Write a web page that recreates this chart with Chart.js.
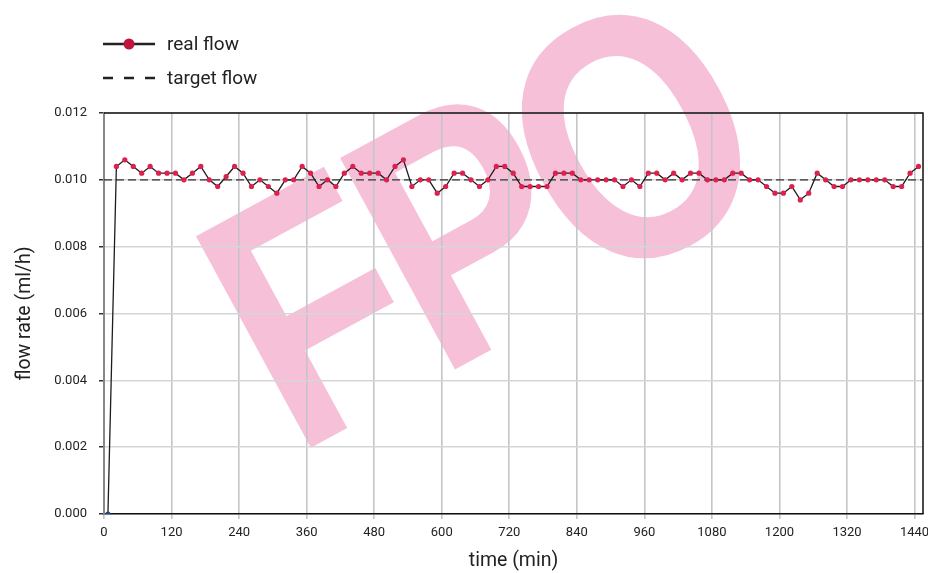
<!DOCTYPE html>
<html>

<head>
    <title>Flow rate</title>
    <script src="https://cdn.jsdelivr.net/npm/chart.js"></script>
    <style>
        html, body { margin: 0; padding: 0; background: #fff; }
        #wrap { width: 928px; height: 573px; }
    </style>
</head>

<body>
    <div id="wrap">
        <canvas id="flowChart" width="928" height="573"></canvas>
    </div>

    <script>
        const sampleTimes = [7, 22, 37, 52, 67, 82, 97, 112, 127, 142, 157, 172, 187, 202, 217, 232, 247, 262, 277, 292,
            307, 322, 337, 352, 367, 382, 397, 412, 427, 442, 457, 472, 487, 502, 517, 532, 547, 562, 577, 592,
            607, 622, 637, 652, 667, 682, 697, 712, 727, 742, 757, 772, 787, 802, 817, 832, 847, 862, 877, 892,
            907, 922, 937, 952, 967, 982, 997, 1012, 1027, 1042, 1057, 1072, 1087, 1102, 1117, 1132, 1147, 1162, 1177, 1192,
            1207, 1222, 1237, 1252, 1267, 1282, 1297, 1312, 1327, 1342, 1357, 1372, 1387, 1402, 1417, 1432, 1447];
        const realFlow = [0.0000,
            0.0104, 0.0106, 0.0104, 0.0102, 0.0104, 0.0102, 0.0102, 0.0102, 0.0100, 0.0102,
            0.0104, 0.0100, 0.0098, 0.0101, 0.0104, 0.0102, 0.0098, 0.0100, 0.0098, 0.0096,
            0.0100, 0.0100, 0.0104, 0.0102, 0.0098, 0.0100, 0.0098, 0.0102, 0.0104, 0.0102,
            0.0102, 0.0102, 0.0100, 0.0104, 0.0106, 0.0098, 0.0100, 0.0100, 0.0096, 0.0098,
            0.0102, 0.0102, 0.0100, 0.0098, 0.0100, 0.0104, 0.0104, 0.0102, 0.0098, 0.0098,
            0.0098, 0.0098, 0.0102, 0.0102, 0.0102, 0.0100, 0.0100, 0.0100, 0.0100, 0.0100,
            0.0098, 0.0100, 0.0098, 0.0102, 0.0102, 0.0100, 0.0102, 0.0100, 0.0102, 0.0102,
            0.0100, 0.0100, 0.0100, 0.0102, 0.0102, 0.0100, 0.0100, 0.0098, 0.0096, 0.0096,
            0.0098, 0.0094, 0.0096, 0.0102, 0.0100, 0.0098, 0.0098, 0.0100, 0.0100, 0.0100,
            0.0100, 0.0100, 0.0098, 0.0098, 0.0102, 0.0104];
        const targetTimes = [0, 1455];
        const targetFlow = [0.010, 0.010];
        const xTicks = [0, 120, 240, 360, 480, 600, 720, 840, 960, 1080, 1200, 1320, 1440];
        const yTicks = [0.000, 0.002, 0.004, 0.006, 0.008, 0.010, 0.012];

        const FONT = "Roboto, 'Liberation Sans', sans-serif";
        const TEXT = "#222";
        const RED = "rgb(222, 32, 78)";

        // big pink FPO stamp behind everything
        const stampPlugin = {
            id: "stamp",
            beforeDraw(chart) {
                const ctx = chart.ctx;
                ctx.save();
                ctx.translate(294, 457);
                ctx.rotate(-28.5 * Math.PI / 180);
                ctx.scale(0.82, 1);
                ctx.fillStyle = "rgb(246, 192, 217)";
                ctx.font = "bold 350px 'Liberation Sans', Arial, sans-serif";
                ctx.textBaseline = "alphabetic";
                ctx.fillText("F", 0, 0);
                ctx.fillText("P", 164 / 0.82, 0);
                ctx.fillText("O", 338 / 0.82, 0);
                ctx.restore();
            },
            beforeDatasetsDraw(chart) {
                // top and right frame of the plot
                const { ctx, chartArea: a } = chart;
                ctx.save();
                ctx.strokeStyle = "#111";
                ctx.lineWidth = 1.5;
                ctx.beginPath();
                ctx.moveTo(a.left, a.top);
                ctx.lineTo(a.right, a.top);
                ctx.lineTo(a.right, a.bottom);
                ctx.stroke();
                ctx.restore();
            },
            afterDraw(chart) {
                // hand drawn legend, top left
                const ctx = chart.ctx;
                ctx.save();
                ctx.strokeStyle = TEXT;
                ctx.lineWidth = 2.5;
                ctx.beginPath();
                ctx.moveTo(103, 44);
                ctx.lineTo(155, 44);
                ctx.stroke();
                ctx.fillStyle = "rgb(190, 22, 62)";
                ctx.beginPath();
                ctx.arc(129, 44, 5.5, 0, Math.PI * 2);
                ctx.fill();
                ctx.setLineDash([10, 11]);
                ctx.beginPath();
                ctx.moveTo(103, 78);
                ctx.lineTo(156, 78);
                ctx.stroke();
                ctx.setLineDash([]);
                ctx.fillStyle = TEXT;
                ctx.font = "19px " + FONT;
                ctx.textBaseline = "middle";
                ctx.fillText("real flow", 167, 45);
                ctx.fillText("target flow", 167, 79);
                ctx.restore();
            }
        };

        const realPoints = sampleTimes.map((t, i) => ({ x: t, y: realFlow[i] }));
        const targetPoints = targetTimes.map((t, i) => ({ x: t, y: targetFlow[i] }));
        const pointColors = realFlow.map((v, i) => i === 0 ? "rgb(30, 70, 140)" : RED);

        const ctx = document.getElementById("flowChart").getContext("2d");
        new Chart(ctx, {
            type: "scatter",
            data: {
                datasets: [
                    {
                        label: "real flow",
                        data: realPoints,
                        showLine: true,
                        borderColor: "#1c1c1c",
                        borderWidth: 1.3,
                        pointRadius: 2.6,
                        pointBorderWidth: 0,
                        pointBackgroundColor: pointColors,
                        tension: 0,
                    },
                    {
                        label: "target flow",
                        data: targetPoints,
                        showLine: true,
                        borderColor: "#333",
                        borderWidth: 1.1,
                        borderDash: [8, 4],
                        pointRadius: 0,
                    },
                ],
            },
            options: {
                responsive: false,
                animation: false,
                layout: { padding: { top: 113, right: 5, left: 0, bottom: 0 } },
                plugins: {
                    legend: { display: false },
                    tooltip: { enabled: false },
                },
                scales: {
                    x: {
                        type: "linear",
                        min: 0,
                        max: 1455,
                        afterFit: (s) => { s.height = 59; s.paddingRight = 0; },
                        afterBuildTicks: (s) => { s.ticks = xTicks.map((v) => ({ value: v })); },
                        ticks: {
                            color: TEXT,
                            font: { family: FONT, size: 13 },
                            padding: 6,
                            maxRotation: 0,
                            autoSkip: false,
                            callback: (v) => String(v),
                        },
                        grid: {
                            color: "rgb(196, 196, 202)",
                            lineWidth: 1.6,
                            tickLength: 5,
                        },
                        border: { color: "#111", width: 1.5 },
                        title: {
                            display: true,
                            text: "time (min)",
                            color: TEXT,
                            font: { family: FONT, size: 19.5 },
                            padding: { top: 0, bottom: 0 },
                        },
                    },
                    y: {
                        min: 0,
                        max: 0.012,
                        afterFit: (s) => { s.width = 104; },
                        afterBuildTicks: (s) => { s.ticks = yTicks.map((v) => ({ value: v })); },
                        ticks: {
                            color: TEXT,
                            font: { family: FONT, size: 13 },
                            padding: 12,
                            callback: (v) => v.toFixed(3),
                        },
                        grid: {
                            color: "rgb(214, 214, 214)",
                            lineWidth: 1.5,
                            tickLength: 5,
                            tickColor: "#333",
                        },
                        border: { color: "rgb(135, 135, 140)", width: 2 },
                        title: {
                            display: true,
                            text: "flow rate (ml/h)",
                            color: TEXT,
                            font: { family: FONT, size: 19.5 },
                            padding: { top: 13, bottom: 0 },
                        },
                    },
                },
            },
            plugins: [stampPlugin],
        });
    </script>
</body>

</html>
